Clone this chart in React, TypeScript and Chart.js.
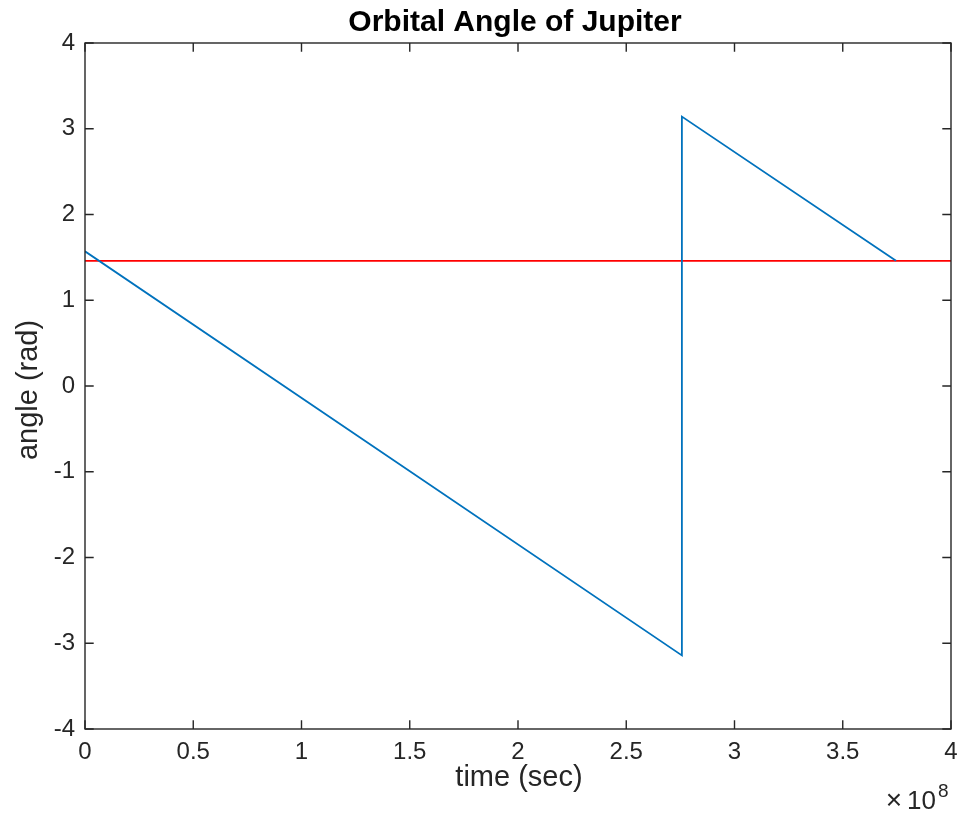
import React, { useEffect, useRef } from "react";
import { Chart, registerables } from "chart.js";

Chart.register(...registerables);

// Orbit samples: time in seconds, angle in radians
const orbitTimes = [0, 2.757e8, 2.757e8, 3.746e8];
const orbitAngles = [1.5708, -3.1416, 3.1416, 1.46];

// Reference level across the whole time span
const refTimes = [0, 4e8];
const refAngles = [1.46, 1.46];

const xTickValues = [0, 0.5e8, 1e8, 1.5e8, 2e8, 2.5e8, 3e8, 3.5e8, 4e8];
const yTickValues = [-4, -3, -2, -1, 0, 1, 2, 3, 4];

const TITLE = "Orbital Angle of Jupiter";
const X_LABEL = "time (sec)";
const Y_LABEL = "angle (rad)";

const AXIS_COLOR = "#262626";
const FONT = "'Liberation Sans', Arial, Helvetica, sans-serif";

const boxPlugin = {
  id: "matlabBox",
  afterDraw(chart: any) {
    const { ctx, chartArea } = chart;
    const { left, right, top, bottom } = chartArea;
    const xs = chart.scales.x;
    const ys = chart.scales.y;
    const tick = 8.7;
    ctx.save();
    ctx.strokeStyle = AXIS_COLOR;
    ctx.lineWidth = 1.4;
    ctx.strokeRect(left, top, right - left, bottom - top);
    ctx.beginPath();
    for (const v of xTickValues) {
      const px = xs.getPixelForValue(v);
      ctx.moveTo(px, bottom);
      ctx.lineTo(px, bottom - tick);
      ctx.moveTo(px, top);
      ctx.lineTo(px, top + tick);
    }
    for (const v of yTickValues) {
      const py = ys.getPixelForValue(v);
      ctx.moveTo(left, py);
      ctx.lineTo(left + tick, py);
      ctx.moveTo(right, py);
      ctx.lineTo(right - tick, py);
    }
    ctx.stroke();

    const cx = (left + right) / 2;
    ctx.fillStyle = "#000000";
    ctx.textAlign = "center";
    ctx.textBaseline = "alphabetic";
    ctx.font = `bold 30px ${FONT}`;
    ctx.fillText(TITLE, cx - 3, 31);

    ctx.fillStyle = AXIS_COLOR;
    ctx.font = `29px ${FONT}`;
    ctx.fillText(X_LABEL, cx + 1, 786);

    ctx.save();
    ctx.translate(37, (top + bottom) / 2 + 4);
    ctx.rotate(-Math.PI / 2);
    ctx.fillText(Y_LABEL, 0, 0);
    ctx.restore();

    // exponent marker for the time axis
    ctx.textAlign = "right";
    ctx.font = `26px ${FONT}`;
    ctx.fillText("10", 936, 809);
    ctx.font = `28px ${FONT}`;
    ctx.fillText("\u00d7", 902, 809);
    ctx.textAlign = "left";
    ctx.font = `19px ${FONT}`;
    ctx.fillText("8", 938, 797);
    ctx.restore();
  },
};

export default function App() {
  const canvasRef = useRef<HTMLCanvasElement | null>(null);

  useEffect(() => {
    const canvas = canvasRef.current;
    if (!canvas) return;
    const chart = new Chart(canvas, {
      type: "line",
      data: {
        datasets: [
          {
            data: orbitTimes.map((t, i) => ({ x: t, y: orbitAngles[i] })),
            borderColor: "#0072BD",
            borderWidth: 1.8,
            pointRadius: 0,
            tension: 0,
          },
          {
            data: refTimes.map((t, i) => ({ x: t, y: refAngles[i] })),
            borderColor: "#FF0000",
            borderWidth: 1.8,
            pointRadius: 0,
            tension: 0,
          },
        ],
      },
      options: {
        animation: false,
        responsive: false,
        devicePixelRatio: 1,
        layout: { padding: { top: 43, right: 10, bottom: 0, left: 0 } },
        plugins: {
          legend: { display: false },
          tooltip: { enabled: false },
          title: { display: false },
        },
        scales: {
          x: {
            type: "linear",
            min: 0,
            max: 4e8,
            afterFit: (s: any) => {
              s.height = 88;
              s.paddingLeft = 0;
              s.paddingRight = 0;
            },
            afterBuildTicks: (s: any) => {
              s.ticks = xTickValues.map((v) => ({ value: v }));
            },
            grid: { display: false, drawTicks: false },
            border: { display: false },
            ticks: {
              padding: 9,
              color: AXIS_COLOR,
              font: { family: FONT, size: 24 },
              maxRotation: 0,
              autoSkip: false,
              callback: (v: any) => String(Number(v) / 1e8),
            },
          },
          y: {
            type: "linear",
            min: -4,
            max: 4,
            afterFit: (s: any) => {
              s.width = 85;
              s.paddingTop = 0;
              s.paddingBottom = 0;
            },
            afterBuildTicks: (s: any) => {
              s.ticks = yTickValues.map((v) => ({ value: v }));
            },
            grid: { display: false, drawTicks: false },
            border: { display: false },
            ticks: {
              padding: 10,
              color: AXIS_COLOR,
              font: { family: FONT, size: 24 },
              autoSkip: false,
              callback: (v: any) => String(v),
            },
          },
        },
      },
      plugins: [boxPlugin],
    });
    return () => chart.destroy();
  }, []);

  return (
    <div style={{ position: "fixed", left: 0, top: 0, width: 961, height: 817, background: "#ffffff" }}>
      <canvas ref={canvasRef} width={961} height={817} style={{ width: 961, height: 817 }} />
    </div>
  );
}
